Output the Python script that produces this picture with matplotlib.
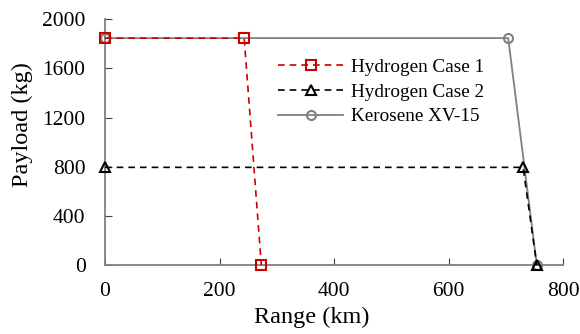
import matplotlib
matplotlib.use("Agg")
import matplotlib.pyplot as plt

plt.rcParams['font.family'] = ['Liberation Serif', 'DejaVu Serif']

h1_range = [0, 243, 273]
h1_payload = [1845, 1845, 0]
h2_range = [0, 730, 754]
h2_payload = [795, 795, 0]
k_range = [0, 704, 754]
k_payload = [1845, 1845, 0]

fig = plt.figure(figsize=(5.8, 3.34), dpi=100)
ax = fig.add_axes([0.181, 0.206, 0.79, 0.737])

ax.plot(k_range, k_payload, color='#808080', lw=1.3, marker='o', ms=6.5,
        mfc='none', mec='#808080', mew=1.5, label='Kerosene XV-15', zorder=2)
ax.plot(h1_range, h1_payload, color='#cc0000', lw=1.2, ls=(0, (4, 3)), marker='s', ms=6.5,
        mfc='none', mec='#cc0000', mew=1.5, label='Hydrogen Case 1', zorder=3)
ax.plot(h2_range, h2_payload, color='black', lw=1.2, ls=(0, (4, 3)), marker='^', ms=6.5,
        mfc='none', mec='black', mew=1.5, label='Hydrogen Case 2', zorder=3)

ax.set_xlim(0, 800)
ax.set_ylim(0, 2000)
ax.set_xticks([0, 200, 400, 600, 800])
ax.set_yticks([0, 400, 800, 1200, 1600, 2000])
for s in ['top', 'right']:
    ax.spines[s].set_visible(False)
for s in ['left', 'bottom']:
    ax.spines[s].set_color('#808080')
    ax.spines[s].set_linewidth(1.3)
ax.tick_params(direction='in', length=5, color='#404040', labelsize=15.5)
ax.tick_params(axis='x', pad=12)
ax.tick_params(axis='y', pad=14)
ax.set_xlabel('Range (km)', fontsize=17.5)
ax.set_ylabel('Payload (kg)', fontsize=17.5)
ax.xaxis.set_label_coords(0.452, -0.17)
ax.yaxis.set_label_coords(-0.158, 0.57)

handles, labels = ax.get_legend_handles_labels()
order = [1, 2, 0]
ax.legend([handles[i] for i in order], [labels[i] for i in order], frameon=False,
          fontsize=13.8, loc='upper left', bbox_to_anchor=(0.34, 0.91),
          handlelength=3.4, labelspacing=0.38, handletextpad=0.4)
for l in ax.lines:
    l.set_clip_on(False)

fig.savefig('out.png', dpi=100)
